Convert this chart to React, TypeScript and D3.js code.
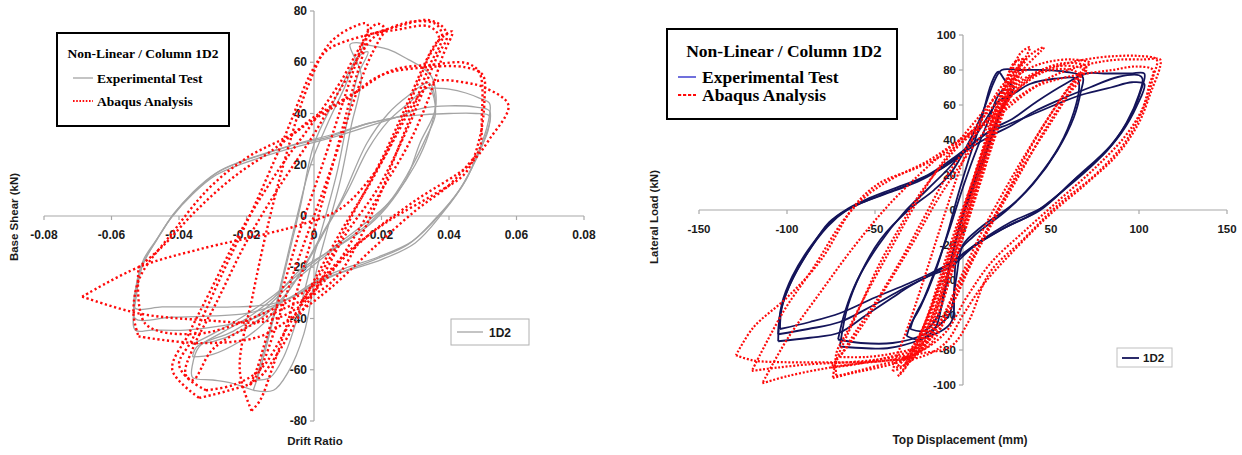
import React from "react";
import * as d3 from "d3";

type Pt = [number, number];

// ---------- Left panel: drift ratio vs base shear (kN) ----------
const leftXTicks = [-0.08, -0.06, -0.04, -0.02, 0, 0.02, 0.04, 0.06, 0.08];
const leftYTicks = [-80, -60, -40, -20, 0, 20, 40, 60, 80];

// Experimental test cycles (grey)
const leftExpSmall1: Pt[] = [
  [-0.018, -68], [-0.012, -68], [-0.0077, -61], [-0.003, -46], [0.0006, -22], [0.004, -5], [0.008, 15],
  [0.011, 35], [0.014, 55], [0.0107, 67], [0.0145, 67], [0.011, 58], [0.006, 45], [0.0, 28], [-0.004, 4],
  [-0.008, -18], [-0.012, -40], [-0.016, -60], [-0.018, -68],
];
const leftExpSmall2: Pt[] = [
  [-0.017, -64], [-0.013, -63], [-0.009, -55], [-0.005, -40], [-0.001, -20], [0.003, -2], [0.007, 18],
  [0.01, 38], [0.013, 55], [0.016, 64], [0.013, 62], [0.009, 50], [0.004, 36], [-0.001, 20], [-0.005, 0],
  [-0.009, -22], [-0.013, -44], [-0.016, -58], [-0.017, -64],
];
const leftExpMid1: Pt[] = [
  [0.0145, 67], [0.022, 65], [0.028, 61], [0.032, 58], [0.035, 54], [0.036, 42], [0.0314, 28.5],
  [0.0275, 15], [0.0216, 3.5], [0.0145, -5.5], [0.0056, -13], [-0.004, -21], [-0.012, -32], [-0.02, -40],
  [-0.028, -46], [-0.034, -51], [-0.036, -58], [-0.036, -63], [-0.03, -64], [-0.025, -65], [-0.018, -68],
];
const leftExpMid2: Pt[] = [
  [-0.036, -55], [-0.03, -54], [-0.022, -49], [-0.015, -42], [-0.01, -34], [-0.004, -22], [0.002, -8],
  [0.008, 6], [0.0157, 28.5], [0.022, 40], [0.028, 47], [0.034, 52], [0.036, 44], [0.034, 32], [0.03, 20],
  [0.024, 8], [0.017, -2], [0.009, -10], [0.0, -19], [-0.008, -28], [-0.016, -38], [-0.024, -45],
  [-0.0347, -51], [-0.036, -55],
];
const leftExpMid3: Pt[] = [
  [-0.036, -50], [-0.03, -49], [-0.022, -45], [-0.014, -38], [-0.008, -30], [-0.002, -18], [0.004, -4],
  [0.01, 10], [0.016, 26], [0.022, 37], [0.028, 44], [0.034, 50], [0.036, 40], [0.033, 30], [0.028, 17],
  [0.022, 5], [0.014, -4], [0.006, -12], [-0.003, -21], [-0.012, -31], [-0.022, -40], [-0.03, -46],
  [-0.036, -50],
];
const leftExpBig1: Pt[] = [
  [0.034, 50], [0.04, 49.5], [0.045, 48], [0.049, 46], [0.052, 44], [0.0515, 36], [0.049, 26],
  [0.045, 14], [0.038, 1], [0.03, -10.5], [0.02, -17], [0.0107, -21], [0.0018, -25], [-0.004, -30],
  [-0.01, -34], [-0.018, -40], [-0.028, -43], [-0.038, -44.5], [-0.048, -44.5], [-0.053, -44.5],
  [-0.0525, -30], [-0.0507, -18.5], [-0.0466, -9.4], [-0.042, 0], [-0.0358, 9.4], [-0.029, 16.8],
  [-0.022, 21], [-0.015, 24], [-0.008, 27], [0.0047, 31], [0.0157, 36], [0.0255, 38.8],
];
const leftExpBig2: Pt[] = [
  [0.0255, 39], [0.032, 42], [0.04, 43], [0.048, 42.5], [0.052, 41], [0.0515, 33], [0.0485, 24],
  [0.044, 12], [0.037, 0], [0.029, -10], [0.019, -16], [0.01, -20], [0.001, -25], [-0.006, -31],
  [-0.012, -35], [-0.02, -38], [-0.03, -39], [-0.042, -39.5], [-0.053, -40], [-0.053, -32],
  [-0.051, -20], [-0.047, -10], [-0.0425, -1], [-0.036, 8.5], [-0.029, 16], [-0.021, 20.5],
  [-0.008, 26], [0.005, 30.5], [0.016, 35], [0.0255, 39],
];
const leftExpBig3: Pt[] = [
  [0.0255, 38.8], [0.032, 39.5], [0.04, 40], [0.048, 40], [0.052, 39], [0.0505, 30], [0.048, 22],
  [0.043, 10], [0.036, -1], [0.028, -11], [0.018, -17], [0.008, -22], [0.0, -27], [-0.007, -32],
  [-0.013, -34.5], [-0.024, -35.5], [-0.035, -35.5], [-0.045, -35.5], [-0.053, -36], [-0.0528, -28],
  [-0.0505, -17], [-0.046, -8], [-0.0415, 1], [-0.035, 10], [-0.028, 17.5], [-0.02, 22],
  [-0.007, 27.5], [0.006, 32], [0.0157, 36], [0.0255, 38.8],
];
const leftExp: Pt[][] = [
  leftExpSmall1, leftExpSmall2, leftExpMid1, leftExpMid2, leftExpMid3, leftExpBig1, leftExpBig2, leftExpBig3,
];

// Abaqus analysis cycles (red, dotted)
const leftFemA: Pt[] = [
  [-0.019, -66], [-0.016, -60], [-0.011, -42], [-0.006, -22], [0.0, 0], [0.006, 22], [0.011, 42],
  [0.016, 60], [0.019, 68], [0.021, 73], [0.019, 75], [0.016, 72], [0.012, 58], [0.007, 38], [0.002, 18],
  [-0.004, -5], [-0.009, -27], [-0.014, -47], [-0.017, -60], [-0.019, -66],
];
const leftFemB: Pt[] = [
  [-0.0185, -76], [-0.016, -72], [-0.012, -58], [-0.007, -38], [-0.002, -15], [0.003, 8], [0.008, 32],
  [0.012, 52], [0.015, 66], [0.0157, 75], [0.012, 74], [0.0047, 67.5], [-0.002, 50], [-0.008, 25],
  [-0.013, 0], [-0.018, -30], [-0.022, -60], [-0.0185, -76],
];
const leftFemC: Pt[] = [
  [-0.034, -71], [-0.025, -68], [-0.017, -64], [-0.01, -52], [-0.004, -38], [0.0, -30], [0.009, -8],
  [0.019, 11], [0.028, 35], [0.0364, 62], [0.0394, 70], [0.038, 74], [0.0335, 76.5], [0.025, 74],
  [0.0196, 72], [0.016, 70], [0.0077, 52], [-0.0006, 36], [-0.01, 19], [-0.022, -6.6], [-0.031, -30],
  [-0.037, -45.7], [-0.042, -60], [-0.034, -71],
];
const leftFemD: Pt[] = [
  [0.02, 72], [0.0047, 65.5], [0.0, 58], [-0.009, 30], [-0.018, 3], [-0.027, -22], [-0.036, -48],
  [-0.04, -58], [-0.036, -64], [-0.03, -52], [-0.015, -40], [0.005, -26], [0.015, -5], [0.026, 30],
  [0.034, 58], [0.038, 70], [0.036, 75], [0.03, 76], [0.026, 75], [0.02, 72],
];
const leftFemE: Pt[] = [
  [-0.052, -47], [-0.034, -49.6], [-0.016, -47], [-0.005, -38], [0.005, -28], [0.018, -12], [0.03, 2],
  [0.04, 12], [0.046, 20.6], [0.049, 26], [0.0497, 37.5], [0.049, 56], [0.045, 59.7], [0.035, 59],
  [0.0234, 57], [0.012, 48], [0.0, 38.6], [-0.0065, 32], [-0.0196, 23], [-0.031, 11], [-0.042, -6.6],
  [-0.0516, -24], [-0.0535, -38], [-0.052, -47],
];
const leftFemF: Pt[] = [
  [-0.0687, -31.5], [-0.052, -38], [-0.034, -40.5], [-0.014, -41], [-0.004, -35], [0.0018, -26],
  [0.0157, -8], [0.03, 6], [0.046, 20], [0.052, 30], [0.0576, 43.3], [0.0507, 50], [0.045, 52],
  [0.036, 52.5], [0.03, 45], [0.025, 33], [0.018, 17], [0.008, 3], [-0.003, -3], [-0.013, -6.6],
  [-0.034, -13], [-0.052, -20], [-0.0687, -31.5],
];
const leftFemG: Pt[] = [
  [-0.004, -34], [0.004, -18], [0.012, 2], [0.02, 22], [0.027, 42], [0.033, 60], [0.0365, 68],
  [0.041, 72], [0.038, 62], [0.034, 46], [0.028, 28], [0.02, 10], [0.012, -8], [0.004, -24], [-0.004, -34],
];
const leftFemH: Pt[] = [
  [-0.052, -20], [-0.045, -12], [-0.035, 2], [-0.024, 15], [-0.012, 26], [-0.003, 35], [0.004, 41],
  [0.01, 46], [0.02, 55], [0.033, 58], [0.045, 58], [0.05, 55], [0.0505, 45], [0.049, 30], [0.045, 17],
  [0.035, 8], [0.022, -2], [0.01, -14], [0.0, -27], [-0.015, -38], [-0.035, -46], [-0.05, -42],
  [-0.052, -20],
];
const leftFemI: Pt[] = [
  [-0.032, -68], [-0.024, -66], [-0.016, -60], [-0.009, -46], [-0.002, -30], [0.008, -6], [0.018, 16],
  [0.027, 40], [0.034, 62], [0.037, 70], [0.034, 74], [0.026, 73], [0.018, 70], [0.008, 50], [0.0, 32],
  [-0.01, 12], [-0.02, -10], [-0.029, -34], [-0.036, -52], [-0.038, -62], [-0.032, -68],
];
const leftFem: Pt[][] = [
  leftFemA, leftFemB, leftFemC, leftFemD, leftFemE, leftFemF, leftFemG, leftFemH, leftFemI,
];

// ---------- Right panel: top displacement (mm) vs lateral load (kN) ----------
const rightXTicks = [-150, -100, -50, 0, 50, 100, 150];
const rightYTicks = [-100, -80, -60, -40, -20, 0, 20, 40, 60, 80, 100];

const rightExpBig1: Pt[] = [
  [-105, -75], [-87, -73], [-70, -70], [-55, -60], [-40, -50], [-31, -44], [-20, -38], [-7, -32.5],
  [6, -21], [25, -9.5], [44, 0], [63, 17], [82, 34], [93, 50], [100, 66], [102, 75], [100, 77],
  [88, 76], [72, 70], [55, 63], [40, 56], [27, 48], [17, 43], [5, 36], [-7, 27], [-24, 17], [-39, 11],
  [-58, 4], [-66, 0], [-77, -9.5], [-90, -27], [-99, -44], [-104, -60], [-105, -75],
];
const rightExpBig2: Pt[] = [
  [-104, -68], [-87, -64], [-70, -59], [-50, -50], [-31, -42], [-18, -36], [-5, -29], [8, -19],
  [27, -7], [46, 2], [65, 19], [84, 37], [95, 53], [101, 68], [103, 78], [95, 78], [80, 78], [70, 78],
  [58, 72], [42, 62], [28, 52], [18, 47], [8, 40], [-5, 30], [-20, 20], [-40, 12], [-55, 6], [-65, 1],
  [-76, -7], [-88, -24], [-98, -42], [-103, -56], [-104, -68],
];
const rightExpBig3: Pt[] = [
  [-105, -71], [-88, -68], [-70, -64], [-52, -55], [-34, -45], [-20, -38], [-8, -31], [4, -22],
  [22, -11], [40, -2], [58, 12], [76, 28], [90, 44], [99, 60], [103, 72], [96, 73], [84, 70], [68, 66],
  [52, 60], [38, 54], [26, 49], [14, 44], [2, 35], [-12, 24], [-30, 15], [-48, 8], [-62, 2], [-72, -4],
  [-86, -20], [-97, -38], [-103, -54], [-105, -71],
];
const rightExpMid1: Pt[] = [
  [-70, -78], [-55, -79], [-43, -79], [-24, -74], [-7, -64.6], [-5, -45], [-3, -25], [6, -15],
  [25, 0], [40, 15], [53.6, 34], [63, 53], [67, 68], [68, 76], [58, 79], [45, 80], [32, 80], [22, 80],
  [17.5, 73], [12, 58], [5, 42], [-7, 21], [-16.5, 11.4], [-31, 0], [-47, -17], [-58, -36],
  [-65.5, -55], [-70, -78],
];
const rightExpMid2: Pt[] = [
  [-71, -74], [-58, -76], [-40, -76], [-22, -71], [-8, -60], [-4, -40], [0, -20], [10, -10], [28, 3],
  [42, 18], [55, 37], [63, 56], [66, 70], [65, 75], [52, 75], [38, 72], [28, 66], [20, 62], [12, 50],
  [4, 38], [-8, 24], [-20, 12], [-34, -2], [-48, -20], [-60, -40], [-67, -58], [-71, -74],
];
const rightExpSmall1: Pt[] = [
  [-32, -72], [-25, -74], [-16, -68], [-11, -48], [-6, -25], [0, -3], [8, 18], [15, 38], [21, 55],
  [26, 66], [29, 70], [24, 74], [20, 79], [16, 72], [10, 50], [3, 28], [-3, 8], [-9, -14], [-16, -36],
  [-24, -55], [-30, -66], [-32, -72],
];
const rightExpSmall2: Pt[] = [
  [-30, -68], [-22, -69], [-14, -60], [-9, -40], [-4, -18], [2, 4], [10, 26], [17, 45], [23, 60],
  [28, 68], [22, 68], [14, 50], [6, 30], [-1, 10], [-8, -12], [-15, -32], [-22, -50], [-28, -62],
  [-30, -68],
];
const rightExp: Pt[][] = [
  rightExpBig1, rightExpBig2, rightExpBig3, rightExpMid1, rightExpMid2, rightExpSmall1, rightExpSmall2,
];

const rightFemA: Pt[] = [
  [-37, -95], [-33, -90], [-25, -80], [-17, -62], [-10, -42], [-3, -20], [4, 2], [11, 24], [18, 46],
  [25, 66], [31, 80], [36, 88], [38, 93], [33, 90], [28, 80], [21, 62], [14, 42], [7, 20], [0, -2],
  [-7, -24], [-14, -46], [-21, -66], [-28, -82], [-34, -92], [-37, -95],
];
const rightFemB: Pt[] = [
  [-33, -88], [-28, -85], [-20, -72], [-13, -52], [-6, -30], [1, -8], [8, 14], [15, 36], [22, 56],
  [28, 72], [33, 82], [36, 86], [30, 85], [24, 72], [17, 52], [10, 30], [3, 8], [-4, -14], [-11, -36],
  [-18, -56], [-25, -74], [-31, -85], [-33, -88],
];
const rightFemC: Pt[] = [
  [-35, -85], [-30, -84], [-22, -78], [-14, -60], [-7, -38], [0, -15], [7, 8], [14, 30], [21, 52],
  [27, 68], [32, 78], [35, 80], [30, 80], [25, 70], [18, 50], [11, 28], [4, 5], [-3, -18], [-10, -40],
  [-17, -60], [-25, -76], [-32, -84], [-35, -85],
];
const rightFemD: Pt[] = [
  [-40, -92], [-35, -90], [-28, -80], [-20, -60], [-12, -35], [-4, -10], [5, 15], [14, 40], [24, 62],
  [34, 80], [46, 93], [40, 90], [30, 80], [20, 68], [10, 50], [0, 28], [-8, 5], [-16, -20], [-24, -45],
  [-31, -66], [-37, -82], [-40, -92],
];
const rightFemE: Pt[] = [
  [-72, -95], [-60, -92], [-45, -88], [-30, -84], [-18, -76], [-8, -58], [0, -40], [12, -15], [25, 10],
  [38, 35], [50, 55], [60, 70], [68, 80], [72, 84], [62, 86], [50, 85], [40, 82], [30, 76], [20, 66],
  [8, 52], [-5, 36], [-18, 18], [-30, -2], [-42, -24], [-55, -48], [-65, -68], [-72, -82], [-72, -95],
];
const rightFemF: Pt[] = [
  [-75, -90], [-60, -88], [-42, -84], [-28, -80], [-15, -70], [-5, -52], [5, -30], [18, -5], [32, 20],
  [46, 45], [58, 64], [66, 76], [70, 82], [58, 84], [45, 80], [32, 70], [22, 58], [10, 42], [-2, 25],
  [-15, 5], [-28, -18], [-40, -38], [-52, -58], [-64, -76], [-72, -86], [-75, -90],
];
const rightFemG: Pt[] = [
  [-129, -83], [-119, -86], [-100, -87], [-81, -87], [-62, -87], [-43, -86], [-24, -82], [-7, -78],
  [3, -64], [15, -36], [34, -17], [53, 2], [76, 21], [93, 40], [104, 62], [108, 76], [110, 86],
  [100, 88], [88, 88], [76, 87], [60, 84], [44, 78], [30, 68], [15, 52], [-7, 34], [-24, 25],
  [-48, 15], [-62, 2], [-81, -29], [-100, -50], [-119, -67], [-129, -83],
];
const rightFemH: Pt[] = [
  [-114, -99], [-100, -95], [-81, -91], [-62, -88], [-43, -86], [-24, -84], [-10, -76], [0, -60],
  [12, -42], [30, -22], [50, -2], [70, 15], [88, 32], [100, 50], [107, 68], [112, 82], [112, 86],
  [102, 86], [90, 86], [80, 85], [66, 82], [50, 76], [35, 66], [20, 54], [5, 44], [-7, 36], [-24, 21],
  [-43, 2], [-62, -21], [-81, -47], [-100, -74], [-114, -99],
];
const rightFemI: Pt[] = [
  [-120, -92], [-105, -90], [-85, -88], [-65, -87], [-45, -85], [-25, -81], [-10, -70], [2, -50],
  [16, -30], [35, -12], [55, 6], [75, 24], [92, 42], [102, 58], [106, 72], [108, 80], [98, 82],
  [85, 80], [70, 78], [55, 75], [40, 70], [25, 60], [12, 50], [-5, 38], [-20, 28], [-40, 18], [-55, 8],
  [-68, -6], [-85, -33], [-102, -58], [-120, -92],
];
const rightFemJ: Pt[] = [
  [-38, -90], [-32, -88], [-24, -76], [-16, -56], [-9, -34], [-2, -12], [6, 12], [13, 34], [20, 54],
  [26, 70], [31, 82], [34, 86], [29, 84], [23, 70], [16, 50], [9, 28], [2, 6], [-5, -16], [-12, -38],
  [-19, -58], [-27, -76], [-34, -86], [-38, -90],
];
const rightFemK: Pt[] = [
  [-30, -80], [-25, -80], [-18, -70], [-11, -50], [-4, -28], [3, -6], [10, 16], [17, 38], [24, 58],
  [30, 72], [33, 76], [27, 74], [20, 58], [13, 38], [6, 16], [-1, -6], [-8, -28], [-15, -48], [-22, -66],
  [-28, -77], [-30, -80],
];
const rightFemL: Pt[] = [
  [-70, -84], [-55, -84], [-40, -82], [-26, -78], [-14, -66], [-4, -46], [8, -22], [22, 4], [36, 28],
  [50, 50], [60, 66], [67, 76], [62, 80], [50, 80], [38, 76], [26, 66], [14, 52], [2, 36], [-10, 18],
  [-22, -4], [-35, -28], [-48, -50], [-60, -68], [-70, -84],
];
const rightFemM: Pt[] = [
  [-74, -96], [-62, -93], [-48, -90], [-34, -86], [-22, -78], [-12, -62], [-2, -40], [10, -14],
  [24, 12], [38, 36], [52, 58], [62, 72], [70, 80], [64, 82], [52, 82], [40, 78], [28, 70], [16, 58],
  [4, 44], [-10, 28], [-24, 10], [-36, -10], [-48, -32], [-58, -54], [-66, -72], [-72, -86], [-74, -96],
];
const rightFem: Pt[][] = [
  rightFemA, rightFemB, rightFemC, rightFemD, rightFemE, rightFemF, rightFemG, rightFemH, rightFemI,
  rightFemJ, rightFemK, rightFemL, rightFemM,
];

const legendTitle = "Non-Linear / Column 1D2";
const legendExp = "Experimental Test";
const legendFem = "Abaqus Analysis";
const seriesName = "1D2";

const sans = "'Liberation Sans', Arial, sans-serif";
const serif = "'Liberation Serif', 'Times New Roman', serif";

type PanelProps = {
  xDomain: [number, number];
  yDomain: [number, number];
  xRange: [number, number];
  yRange: [number, number];
  xTicks: number[];
  yTicks: number[];
  fmtX: (v: number) => string;
  exp: Pt[][];
  fem: Pt[][];
  expColor: string;
  expWidth: number;
  femDash: string;
  femWidth: number;
  tickFont: number;
};

function Panel(p: PanelProps) {
  const x = d3.scaleLinear().domain(p.xDomain).range(p.xRange);
  const y = d3.scaleLinear().domain(p.yDomain).range(p.yRange);
  const line = d3
    .line<Pt>()
    .x((d) => x(d[0]))
    .y((d) => y(d[1]))
    .curve(d3.curveCatmullRom.alpha(0.5));
  const x0 = x(0);
  const y0 = y(0);
  return (
    <g>
      {/* axes */}
      <line x1={p.xRange[0]} x2={p.xRange[1]} y1={y0} y2={y0} stroke="#a8a8a8" strokeWidth={1.2} />
      <line x1={x0} x2={x0} y1={p.yRange[0]} y2={p.yRange[1]} stroke="#a8a8a8" strokeWidth={1.2} />
      {p.xTicks.map((t) => (
        <g key={"xt" + t}>
          <line x1={x(t)} x2={x(t)} y1={y0} y2={y0 + 4} stroke="#a8a8a8" strokeWidth={1.2} />
          <text
            x={x(t)}
            y={y0 + 23}
            textAnchor="middle"
            fontFamily={sans}
            fontWeight="bold"
            fontSize={p.tickFont}
            fill="#1a1a1a"
          >
            {p.fmtX(t)}
          </text>
        </g>
      ))}
      {p.yTicks.map((t) => (
        <g key={"yt" + t}>
          <line x1={x0 - 4} x2={x0} y1={y(t)} y2={y(t)} stroke="#a8a8a8" strokeWidth={1.2} />
          <text
            x={x0 - 7}
            y={y(t)}
            dy="0.35em"
            textAnchor="end"
            fontFamily={sans}
            fontWeight="bold"
            fontSize={p.tickFont}
            fill="#1a1a1a"
          >
            {t}
          </text>
        </g>
      ))}
      {/* experimental cycles */}
      {p.exp.map((c, i) => (
        <path key={"e" + i} d={line(c) || ""} fill="none" stroke={p.expColor} strokeWidth={p.expWidth} />
      ))}
      {/* numerical cycles */}
      {p.fem.map((c, i) => (
        <path
          key={"f" + i}
          d={line(c) || ""}
          fill="none"
          stroke="#ff0a0a"
          strokeWidth={p.femWidth}
          strokeDasharray={p.femDash}
        />
      ))}
    </g>
  );
}

export default function App() {
  return (
    <svg
      width={1242}
      height={455}
      viewBox="0 0 1242 455"
      style={{ position: "absolute", left: 0, top: 0, background: "#fff" }}
    >
      <rect x={0} y={0} width={1242} height={455} fill="#fff" />

      {/* ---------- left panel ---------- */}
      <Panel
        xDomain={[-0.08, 0.08]}
        yDomain={[-80, 80]}
        xRange={[44, 584]}
        yRange={[421, 11]}
        xTicks={leftXTicks}
        yTicks={leftYTicks}
        fmtX={(v) => (v === 0 ? "0" : v.toFixed(2))}
        exp={leftExp}
        fem={leftFem}
        expColor="#a4a4a4"
        expWidth={1.3}
        femDash="2.2 2.6"
        femWidth={2.4}
        tickFont={12}
      />
      <text
        transform="translate(18,217) rotate(-90)"
        textAnchor="middle"
        fontFamily={sans}
        fontWeight="bold"
        fontSize={11.5}
        fill="#1a1a1a"
      >
        Base Shear (kN)
      </text>
      <text x={315} y={445} textAnchor="middle" fontFamily={sans} fontWeight="bold" fontSize={11.5} fill="#1a1a1a">
        Drift Ratio
      </text>
      <g>
        <rect x={57} y={33} width={172} height={93} fill="#fff" stroke="#000" strokeWidth={2} />
        <text x={143} y={58} textAnchor="middle" fontFamily={serif} fontWeight="bold" fontSize={13.5}>
          {legendTitle}
        </text>
        <line x1={73} x2={93} y1={78} y2={78} stroke="#a4a4a4" strokeWidth={1.3} />
        <text x={97} y={83} fontFamily={serif} fontWeight="bold" fontSize={13.5}>
          {legendExp}
        </text>
        <line x1={73} x2={93} y1={101} y2={101} stroke="#ff0a0a" strokeWidth={2} strokeDasharray="1.6 1.6" />
        <text x={97} y={106} fontFamily={serif} fontWeight="bold" fontSize={13.5}>
          {legendFem}
        </text>
      </g>
      <g>
        <rect x={451} y={319} width={78} height={26} fill="#fff" stroke="#b0b0b0" strokeWidth={1} />
        <line x1={457} x2={483} y1={332} y2={332} stroke="#a4a4a4" strokeWidth={1.3} />
        <text x={489} y={336.5} fontFamily={sans} fontWeight="bold" fontSize={12} fill="#1a1a1a">
          {seriesName}
        </text>
      </g>

      {/* ---------- right panel ---------- */}
      <Panel
        xDomain={[-150, 150]}
        yDomain={[-100, 100]}
        xRange={[699, 1227]}
        yRange={[385, 35]}
        xTicks={rightXTicks}
        yTicks={rightYTicks}
        fmtX={(v) => String(v)}
        exp={rightExp}
        fem={rightFem}
        expColor="#14145a"
        expWidth={1.8}
        femDash="2 1.8"
        femWidth={2.2}
        tickFont={11.5}
      />
      <text
        transform="translate(658,217) rotate(-90)"
        textAnchor="middle"
        fontFamily={sans}
        fontWeight="bold"
        fontSize={11.5}
        fill="#1a1a1a"
      >
        Lateral Load (kN)
      </text>
      <text x={960} y={444} textAnchor="middle" fontFamily={sans} fontWeight="bold" fontSize={12} fill="#1a1a1a">
        Top Displacement (mm)
      </text>
      <g>
        <rect x={667} y={29} width={230} height={90} fill="#fff" stroke="#000" strokeWidth={2} />
        <text x={784} y={57} textAnchor="middle" fontFamily={serif} fontWeight="bold" fontSize={17.5}>
          {legendTitle}
        </text>
        <line x1={678} x2={696} y1={77} y2={77} stroke="#4040d0" strokeWidth={1.5} />
        <text x={702} y={82.5} fontFamily={serif} fontWeight="bold" fontSize={17.5}>
          {legendExp}
        </text>
        <line x1={678} x2={696} y1={95} y2={95} stroke="#ff0a0a" strokeWidth={2} strokeDasharray="3.2 1.8" />
        <text x={702} y={100.5} fontFamily={serif} fontWeight="bold" fontSize={17.5}>
          {legendFem}
        </text>
      </g>
      <g>
        <rect x={1117} y={348} width={55} height={19} fill="#fff" stroke="#c0c0c0" strokeWidth={1} />
        <line x1={1122} x2={1139} y1={358} y2={358} stroke="#14145a" strokeWidth={1.8} />
        <text x={1143} y={362} fontFamily={sans} fontWeight="bold" fontSize={11.5} fill="#1a1a1a">
          {seriesName}
        </text>
      </g>
    </svg>
  );
}
